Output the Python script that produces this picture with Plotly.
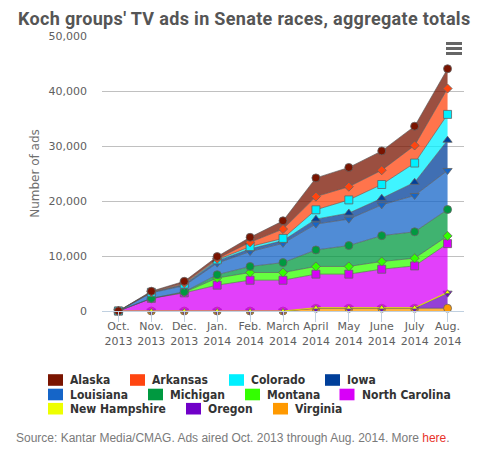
import plotly.graph_objects as go

# ---------------- data ----------------
months = ["Oct.<br>2013", "Nov.<br>2013", "Dec.<br>2013", "Jan.<br>2014", "Feb.<br>2014",
          "March<br>2014", "April<br>2014", "May<br>2014", "June<br>2014", "July<br>2014",
          "Aug.<br>2014"]

series_names = ["Alaska", "Arkansas", "Colorado", "Iowa", "Louisiana", "Michigan",
                "Montana", "North Carolina", "New Hampshire", "Oregon", "Virginia"]

alaska         = [0, 100, 300, 400, 900, 1500, 3400, 3500, 3500, 3500, 3600]
arkansas       = [0, 100, 200, 200, 800, 1700, 2400, 2400, 2600, 3200, 4700]
colorado       = [0, 0, 100, 200, 400, 400, 1700, 2400, 2500, 3500, 4700]
iowa           = [0, 100, 200, 400, 500, 500, 900, 1100, 1200, 2400, 5500]
louisiana      = [0, 1000, 1100, 2100, 2700, 3500, 4700, 4800, 5600, 6600, 7100]
michigan       = [0, 0, 100, 600, 1100, 1800, 3000, 3800, 4700, 4800, 4800]
montana        = [0, 0, 100, 1300, 1400, 1400, 1400, 1400, 1400, 1400, 1400]
north_carolina = [0, 2300, 3300, 4700, 5600, 5600, 6100, 6100, 7000, 7600, 8850]
new_hampshire  = [0, 0, 0, 0, 0, 0, 100, 100, 100, 100, 150]
oregon         = [0, 0, 0, 0, 0, 0, 0, 0, 0, 0, 2750]
virginia       = [0, 0, 0, 0, 0, 0, 500, 500, 500, 500, 500]

series_values = [alaska, arkansas, colorado, iowa, louisiana, michigan, montana,
                 north_carolina, new_hampshire, oregon, virginia]

colors = ["#7a1400", "#ff4510", "#00f0ff", "#003f9a", "#1565c8", "#009940",
          "#33ff00", "#d800f8", "#eeff00", "#7000c8", "#ff9900"]
symbols = ["circle", "diamond", "square", "triangle-up", "triangle-down",
           "circle", "diamond", "square", "triangle-up", "triangle-down", "circle"]

title_text = "Koch groups' TV ads in Senate races, aggregate totals"
y_title = "Number of ads"
source_text = ("Source: Kantar Media/CMAG. Ads aired Oct. 2013 through Aug. 2014. More "
               "<span style='color:#e8332a'>here</span>.")

# ---------------- layout geometry ----------------
# The page body has an 8px default margin, so the figure is drawn 8px in.
OFF = 8
W, H = 482 - 2 * OFF, 454 - 2 * OFF
PLOT_L, PLOT_R, PLOT_T, PLOT_B = 102, 464, 36, 311   # window pixels of plot area
ML, MT = PLOT_L - OFF, PLOT_T - OFF
MR, MB = W - (PLOT_R - OFF), H - (PLOT_B - OFF)
PW, PH = PLOT_R - PLOT_L, PLOT_B - PLOT_T


def px_x(p):
    return (p - PLOT_L) / PW


def px_y(p):
    return (PLOT_B - p) / PH


def rgba(hexc, a):
    h = hexc.lstrip("#")
    r, g, b = int(h[0:2], 16), int(h[2:4], 16), int(h[4:6], 16)
    return f"rgba({r},{g},{b},{a})"


fig = go.Figure()
x_idx = list(range(len(months)))

# bottom of stack first (Virginia) ... top last (Alaska)
for name, vals, col, sym in reversed(list(zip(series_names, series_values, colors, symbols))):
    line_col = "rgba(220,220,0,0.95)" if name == "New Hampshire" else "rgba(85,85,85,0.6)"
    if sym == "diamond":
        msize = 7
    elif name == "New Hampshire":
        msize = 5
    else:
        msize = 8
    fig.add_trace(go.Scatter(
        x=x_idx, y=vals, name=name, stackgroup="one", mode="lines+markers",
        fillcolor=rgba(col, 0.75),
        line=dict(color=line_col, width=1),
        marker=dict(symbol=sym, size=msize, color=col,
                    line=dict(color="rgba(100,100,100,0.8)", width=1)),
        showlegend=False, cliponaxis=False,
    ))

# ---------------- manual legend (Highcharts-style flowing rows) ----------------
legend_rows_y = [380, 394.5, 408.7]
legend_pos = {
    "Alaska": (48, 0), "Arkansas": (130, 0), "Colorado": (229, 0), "Iowa": (325, 0),
    "Louisiana": (48, 1), "Michigan": (148, 1), "Montana": (245, 1), "North Carolina": (339.5, 1),
    "New Hampshire": (48, 2), "Oregon": (186, 2), "Virginia": (273, 2),
}
shapes = []
annotations = []
for name, col in zip(series_names, colors):
    sx, row = legend_pos[name]
    cy = legend_rows_y[row]
    shapes.append(dict(type="rect", xref="paper", yref="paper",
                       x0=px_x(sx), x1=px_x(sx + 15), y0=px_y(cy + 5.8), y1=px_y(cy - 5.8),
                       fillcolor=col, line=dict(width=0)))
    annotations.append(dict(text=f"<b>{name}</b>", xref="paper", yref="paper",
                            x=px_x(sx + 20), y=px_y(cy), xanchor="left", yanchor="middle",
                            showarrow=False,
                            font=dict(family="DejaVu Sans Condensed, DejaVu Sans", size=12,
                                      color="#333333")))

# hamburger menu icon
for yy in (43.5, 48.5, 53.5):
    shapes.append(dict(type="line", xref="paper", yref="paper",
                       x0=px_x(446), x1=px_x(462), y0=px_y(yy), y1=px_y(yy),
                       line=dict(color="#666666", width=3)))

annotations.append(dict(text=source_text, xref="paper", yref="paper",
                        x=px_x(14), y=px_y(438), xanchor="left", yanchor="middle",
                        showarrow=False,
                        font=dict(family="Liberation Sans, Arial", size=12, color="#7a7a7a")))

fig.update_layout(
    width=W, height=H,
    margin=dict(l=ML, r=MR, t=MT, b=MB, pad=0),
    paper_bgcolor="white", plot_bgcolor="white",
    showlegend=False,
    title=dict(text=f"<span style='letter-spacing:0.33px'><b>{title_text}</b></span>",
               x=(18 - OFF) / W, xanchor="left", xref="container",
               y=1 - (18.75 - OFF) / H, yanchor="middle", yref="container",
               font=dict(family="Roboto, sans-serif", size=18, color="#555555")),
    shapes=shapes, annotations=annotations,
    hovermode=False,
)

fig.update_xaxes(
    range=[-0.5, len(months) - 0.5], tickvals=x_idx, ticktext=months,
    showgrid=False, zeroline=False,
    showline=True, linecolor="#C0D0E0", linewidth=1,
    ticks="outside", ticklen=10, tickcolor="#C0D0E0", tickwidth=1,
    ticklabelstandoff=-5,
    tickfont=dict(family="DejaVu Sans", size=11, color="#606060"),
)
fig.update_yaxes(
    range=[0, 50000], dtick=10000, tickformat=",",
    showgrid=True, gridcolor="#C0C0C0", gridwidth=1, zeroline=False,
    showline=False, ticks="", ticklabelstandoff=14,
    tickfont=dict(family="DejaVu Sans", size=11, color="#606060"),
    title=dict(text=y_title, standoff=6,
               font=dict(family="DejaVu Sans", size=12, color="#707070")),
)

fig.write_html("out.html")
